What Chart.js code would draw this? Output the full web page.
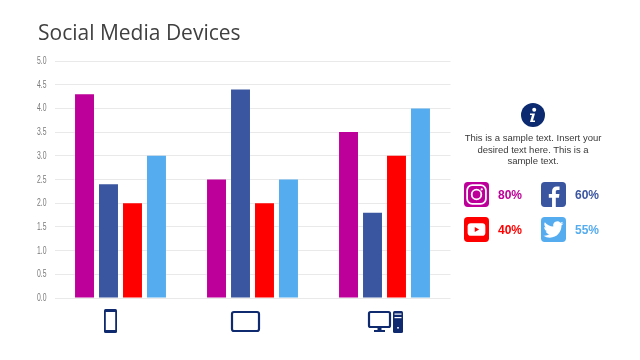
<!DOCTYPE html>
<html>
<head>
<meta charset="utf-8">
<title>Social Media Devices</title>
<script src="https://cdn.jsdelivr.net/npm/chart.js@4/dist/chart.umd.min.js"></script>
<style>
  html, body { margin: 0; background: #fff; }
  #wrap { position: relative; width: 640px; height: 360px; overflow: hidden; }
  #wrap canvas { position: absolute; left: 0; top: 0; }
  #title { position: absolute; left: 38px; top: 18px; font: 21px "Open Sans", sans-serif; color: #404040; white-space: nowrap; }
  #note { position: absolute; left: 453px; top: 132px; width: 160px; text-align: center; font: 9.5px/11.6px "Liberation Sans", Arial, sans-serif; color: #3a3a3a; }
  .pct { position: absolute; font: bold 12px "Liberation Sans", Arial, sans-serif; white-space: nowrap; }
  .ico { position: absolute; width: 25px; height: 25px; }
  #info { position: absolute; left: 521px; top: 103px; width: 24px; height: 24px; }
</style>
</head>
<body>
<div id="wrap">
  <canvas id="myChart" width="640" height="360"></canvas>
  <div id="title">Social Media Devices</div>
  <svg id="info" viewBox="0 0 24 24">
    <circle cx="12" cy="12" r="12" fill="#0b2a6f"/>
    <circle cx="13.2" cy="6.8" r="2" fill="#fff"/>
    <path d="M9 10.5h5l-2 7h2v1.5H9l2-7H9z" fill="#fff"/>
  </svg>
  <div id="note">This is a sample text. Insert your<br>desired text here. This is a<br>sample text.</div>
  <div id="side"></div>
</div>
<script>
const categories = ["Mobile", "Tablet", "Desktop"];
const instagramValues = [4.3, 2.5, 3.5];
const facebookValues = [2.4, 4.4, 1.8];
const youtubeValues = [2.0, 2.0, 3.0];
const twitterValues = [3.0, 2.5, 4.0];

const seriesNames = ["Instagram", "Facebook", "YouTube", "Twitter"];
const seriesColors = ["#bd0099", "#3b56a0", "#ff0000", "#55acee"];
const sharePercents = ["80%", "60%", "40%", "55%"];
const navy = "#0f2a6e";

// glyphs for the four tiles, 24x24 box
const glyphs = {
  Instagram: '<rect x="3" y="3" width="18" height="18" rx="5" fill="none" stroke="#fff" stroke-width="1.7"/><circle cx="12" cy="12" r="4.6" fill="none" stroke="#fff" stroke-width="1.7"/><circle cx="17" cy="7" r="1.1" fill="#fff"/>',
  Facebook: '<g transform="translate(-1.8 0)"><path d="M16 24v-9h3l.5-3.5H16V9.3c0-1 .3-1.7 1.7-1.7h1.9V4.4c-.3 0-1.4-.1-2.7-.1-2.7 0-4.5 1.6-4.5 4.6v2.6H9.3V15h3.1v9z" fill="#fff"/></g>',
  YouTube: '<rect x="3.5" y="6" width="17" height="12" rx="3" fill="#fff"/><path d="M10.3 9.6v4.8l4.2-2.4z" fill="#ff0000"/>',
  Twitter: '<g transform="translate(2.4 2.4) scale(.8)"><path d="M23.953 4.57a10 10 0 01-2.825.775 4.958 4.958 0 002.163-2.723c-.951.555-2.005.959-3.127 1.184a4.92 4.92 0 00-8.384 4.482C7.69 8.095 4.067 6.13 1.64 3.162a4.822 4.822 0 00-.666 2.475c0 1.71.87 3.213 2.188 4.096a4.904 4.904 0 01-2.228-.616v.06a4.923 4.923 0 003.946 4.827 4.996 4.996 0 01-2.212.085 4.936 4.936 0 004.604 3.417 9.867 9.867 0 01-6.102 2.105c-.39 0-.779-.023-1.17-.067a13.995 13.995 0 007.557 2.209c9.053 0 13.998-7.496 13.998-13.985 0-.21 0-.42-.015-.63A9.935 9.935 0 0024 4.59z" fill="#fff"/></g>'
};

// side panel tiles
const side = document.getElementById("side");
seriesNames.forEach((name, i) => {
  const left = i % 2 === 0 ? 464 : 541;
  const top = i < 2 ? 182 : 217;
  side.insertAdjacentHTML("beforeend",
    `<svg class="ico" viewBox="0 0 24 24" style="left:${left}px;top:${top}px"><rect width="24" height="24" rx="3.5" fill="${seriesColors[i]}"/>${glyphs[name]}</svg>` +
    `<div class="pct" style="left:${left + 34}px;top:${top + 6}px;color:${seriesColors[i]}">${sharePercents[i]}</div>`);
});

function roundRect(ctx, x, y, w, h, r, fill) {
  ctx.beginPath();
  ctx.roundRect(x, y, w, h, r);
  if (fill) ctx.fill(); else ctx.stroke();
}

// device icons sit left of the category centres, same as the reference
const iconDrawers = {
  Mobile(ctx, cx) {
    const x = cx - 10;
    roundRect(ctx, x - 6.5, 309, 13, 24, 1.5, true);
    ctx.fillStyle = "#fff";
    ctx.fillRect(x - 4.7, 312, 9.4, 18);
  },
  Tablet(ctx, cx) {
    const x = cx - 7;
    ctx.lineWidth = 2.2;
    roundRect(ctx, x - 13.5, 312, 27, 19, 2, false);
  },
  Desktop(ctx, cx) {
    const x = cx - 1;
    ctx.lineWidth = 2.2;
    roundRect(ctx, x - 14.5, 312, 21, 15, 1.5, false);
    ctx.fillRect(x - 6, 327, 4, 3);
    ctx.fillRect(x - 9.5, 330, 11, 2);
    roundRect(ctx, x + 9.5, 311, 10, 22, 1.5, true);
    ctx.fillStyle = "#fff";
    ctx.fillRect(x + 11, 313.5, 7, 1.2);
    ctx.fillRect(x + 11, 317, 7, 1.2);
    ctx.fillRect(x + 13.7, 327, 1.6, 1.6);
  }
};

const deviceIcons = {
  id: "deviceIcons",
  afterDraw(chart) {
    const { ctx, scales } = chart;
    categories.forEach((cat, i) => {
      ctx.save();
      ctx.fillStyle = navy;
      ctx.strokeStyle = navy;
      iconDrawers[cat](ctx, scales.x.getPixelForTick(i));
      ctx.restore();
    });
  }
};

// no narrow font installed, so squeeze the y labels by hand
const narrowTicks = {
  id: "narrowTicks",
  afterDraw(chart) {
    const { ctx, scales } = chart;
    ctx.save();
    ctx.fillStyle = "#7a7a7a";
    ctx.font = '11px "Liberation Sans", sans-serif';
    ctx.textAlign = "right";
    ctx.textBaseline = "middle";
    scales.y.ticks.forEach((t, i) => {
      ctx.save();
      ctx.translate(46.5, scales.y.getPixelForTick(i));
      ctx.scale(0.62, 1);
      ctx.fillText(t.value.toFixed(1), 0, 0);
      ctx.restore();
    });
    ctx.restore();
  }
};

new Chart(document.getElementById("myChart").getContext("2d"), {
  type: "bar",
  data: {
    labels: categories,
    datasets: [instagramValues, facebookValues, youtubeValues, twitterValues].map((data, i) => ({
      label: seriesNames[i],
      data,
      backgroundColor: seriesColors[i],
      categoryPercentage: 0.727,
      barPercentage: 0.79
    }))
  },
  options: {
    responsive: false,
    animation: false,
    layout: { padding: { left: 0, top: 61, right: 189.5, bottom: 62 } },
    plugins: { legend: { display: false }, tooltip: { enabled: false } },
    scales: {
      x: {
        grid: { display: false },
        border: { display: false },
        ticks: { display: false },
        afterFit(scale) { scale.height = 0; }
      },
      y: {
        min: 0,
        max: 5,
        grid: { color: "#e9e9e9", drawTicks: false },
        border: { display: false },
        afterFit(scale) { scale.width = 54.5; },
        ticks: { stepSize: 0.5, display: false }
      }
    }
  },
  plugins: [deviceIcons, narrowTicks]
});
</script>
</body>
</html>
